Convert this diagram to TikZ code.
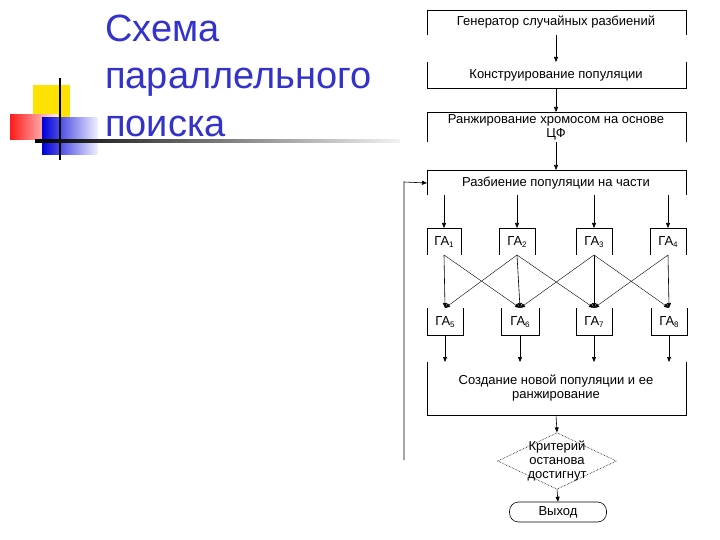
\documentclass[tikz,border=0pt]{standalone}
\usepackage{fontspec}
\setmainfont{Liberation Sans}
\usetikzlibrary{shapes.geometric,arrows.meta}
\newcommand{\gsub}[1]{\raisebox{-0.3ex}{\fontsize{8}{9}\selectfont #1}}
\definecolor{titleblue}{RGB}{51,51,204}
\begin{document}
\begin{tikzpicture}[x=1pt,y=-1pt,
  lab/.style={font=\fontsize{13}{14}\selectfont,align=center},
  arr/.style={-{Triangle[length=5pt,width=4pt]},line width=0.6pt},
  thin arr/.style={-{Triangle[length=5pt,width=4pt]},line width=0.4pt},
  ln/.style={line width=0.7pt}]
\useasboundingbox (0,0) rectangle (720,540);
\fill[white] (0,0) rectangle (720,540);
% decoration
\fill[yellow!85!orange] (33,85) rectangle (70,120);
\shade[left color=red!90, right color=red!5] (10,115) rectangle (58,140);
\shade[left color=blue!85!black, right color=blue!5] (42,118) rectangle (98,155);
\draw[line width=1.6pt] (60,78) -- (60,160);
\shade[left color=black, right color=gray!10] (35,140) rectangle (400,142.5);
% title
\node[anchor=base west,text=titleblue,font=\fontsize{38}{40}\selectfont,inner sep=0] (t1) at (105,42) {Схема};
\node[anchor=base west,text=titleblue,font=\fontsize{38}{40}\selectfont,inner sep=0] (t2) at (105,89) {параллельного};
\node[anchor=base west,text=titleblue,font=\fontsize{38}{40}\selectfont,inner sep=0] (t3) at (105,137) {поиска};
% main boxes
\node[lab] (gen) at (556,22) {Генератор случайных разбиений};
\draw[ln] (427,35) -- (427,10) -- (686,10) -- (686,35);
\node[lab] (kon) at (556,75) {Конструирование популяции};
\draw[ln] (427,62) -- (427,88) -- (686,88) -- (686,62);
\node[lab,inner sep=0] (ran) at (556,127) {Ранжирование хромосом на основе\\ЦФ};
\draw[ln] (427,142) -- (427,112) -- (686,112) -- (686,142);
\node[lab] (raz) at (556,183) {Разбиение популяции на части};
\draw[ln] (427,195) -- (427,170) -- (686,170) -- (686,195);
\coordinate (genb) at (556,35); \coordinate (kont) at (556,62);
\coordinate (konb) at (556,88); \coordinate (rant) at (556,112);
\coordinate (ranb) at (556,142); \coordinate (razt) at (556,170);
\draw[arr] (genb) -- (kont);
\draw[arr] (konb) -- (rant);
\draw[arr] (ranb) -- (razt);
% GA boxes
\foreach \i/\x/\w in {1/444/17,2/517/18,3/594/18,4/668/18}{
  \node[lab] (ga\i) at (\x,242) {ГА\gsub{\i}};
  \draw[ln] (\x-\w,255) -- (\x-\w,228) -- (\x+\w,228) -- (\x+\w,255);
  \coordinate (ga\i t) at (\x,228); \coordinate (ga\i b) at (\x,255);
  \coordinate (rz\i) at (\x,195);
  \draw[arr] (rz\i) -- (ga\i t);
}
\foreach \i/\x/\w in {5/445/18,6/520/19,7/594/18,8/669/18}{
  \node[lab] (ga\i) at (\x,322) {ГА\gsub{\i}};
  \draw[ln] (\x-\w,308) -- (\x-\w,335) -- (\x+\w,335) -- (\x+\w,308);
  \coordinate (ga\i t) at (\x,308); \coordinate (ga\i b) at (\x,335);
  \coordinate (cr\i) at (\x,362);
  \draw[arr] (ga\i b) -- (cr\i);
}
\foreach \a/\b in {1/5,2/6,3/7,4/8}{\draw[arr] (ga\a b) -- (ga\b t);}
\foreach \a/\b in {1/6,2/5,2/7,3/6,3/8,4/7}{\draw[thin arr] (ga\a b) -- (ga\b t);}
% creation box
\node[lab,inner sep=0] (cre) at (556,388) {Создание новой популяции и ее\\ранжирование};
\draw[ln] (427,362) -- (427,415) -- (686,415) -- (686,362);
\coordinate (creb) at (556,415);
% diamond
\node[diamond,draw,densely dotted,line width=0.6pt,aspect=2.1,inner sep=-4pt,lab] (dia) at (557,461) {Критерий\\останова\\достигнут};
\draw[arr] (creb) -- (dia.north);
\node[draw,rounded corners=9pt,minimum width=97pt,minimum height=20pt,lab,line width=0.6pt] (ex) at (558,512) {Выход};
\draw[arr] (dia.south) -- (ex.north);
% feedback
\coordinate (fb0) at (404,460); \coordinate (fb1) at (404,182);
\draw[arr] (fb0) -- (fb1) -- (raz.west -| 427,182);
\end{tikzpicture}
\end{document}
